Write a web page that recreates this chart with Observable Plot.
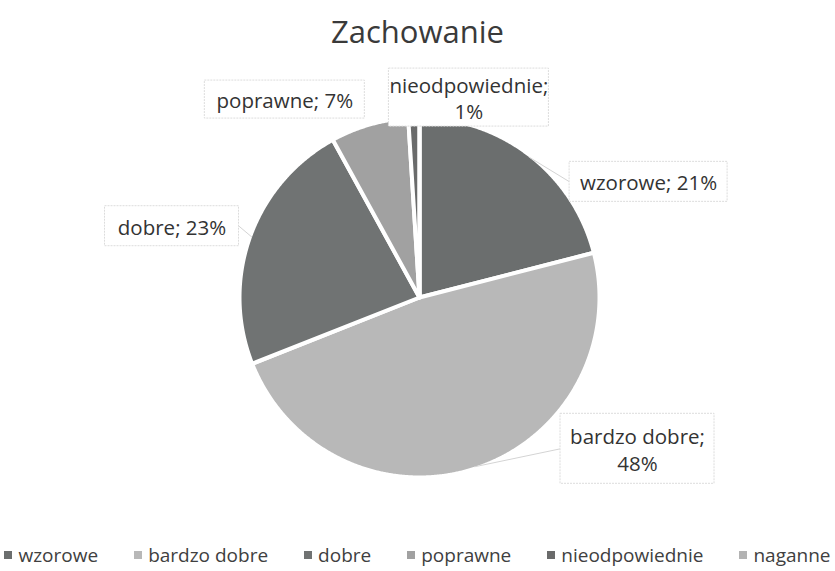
<!DOCTYPE html>
<html><head><meta charset="utf-8">
<script src="https://cdn.jsdelivr.net/npm/d3@7"></script>
<script src="https://cdn.jsdelivr.net/npm/@observablehq/plot@0.6"></script>
<style>
body{margin:0;background:#fff;font-family:"Open Sans",sans-serif;width:835px;overflow:hidden;}
#title{height:62px;line-height:62px;text-align:center;font-size:31px;color:#3a3a3a;width:835px;}
#chart svg{display:block;}
#legend{width:835px;height:54px;overflow:visible;}
#legend > div{display:flex !important;flex-wrap:nowrap !important;justify-content:center !important;align-items:center !important;min-height:0 !important;margin:0 !important;padding-top:25px;white-space:nowrap;}
#legend span{margin-right:36px !important;white-space:nowrap;display:inline-flex !important;align-items:center;}
#legend span:last-child{margin-right:0 !important;}
#legend span svg{margin-right:6px !important;}
</style></head><body>
<div id="title">Zachowanie</div>
<div id="chart"></div>
<div id="legend"></div>
<script>
// ---- data ----
const categories = ["wzorowe", "bardzo dobre", "dobre", "poprawne", "nieodpowiednie", "naganne"];
const percents = [21, 48, 23, 7, 1, 0];
const colors = ["#6b6e6e", "#b8b8b8", "#707373", "#a1a1a1", "#6a6b6b", "#b3b3b3"];
const labelTexts = ["wzorowe; 21%", "bardzo dobre;\n48%", "dobre; 23%", "poprawne; 7%", "nieodpowiednie;\n1%", ""];

// ---- layout (pixels) ----
const W = 835, H = 455, CX = 419, CY = 235, R = 178;
const labelLayout = [
  {dx: 120, dy: 25, w: 158, h: 40, leader: true},
  {dx: 163, dy: -18, w: 154, h: 70, leader: true},
  {dx: -80, dy: -11, w: 134, h: 40, leader: true},
  {dx: -85, dy: -27, w: 160, h: 38, leader: false},
  {dx: 55, dy: -22, w: 160, h: 58, leader: false},
  null
];

const rows = categories.map((c, i) => ({cat: c, value: percents[i]}));
const arcs = d3.pie().sort(null).value(d => d.value)(rows);

const rr = 1 + 2 / R;
const pts = [];
arcs.forEach(a => {
  const c = a.data.cat;
  pts.push({cat: c, x: 0, y: 0});
  const n = Math.max(2, Math.ceil((a.endAngle - a.startAngle) / 0.005));
  for (let k = 0; k <= n; k++) {
    const t = a.startAngle + (a.endAngle - a.startAngle) * k / n;
    pts.push({cat: c, x: rr * Math.sin(t), y: rr * Math.cos(t)});
  }
  pts.push({cat: c, x: 0, y: 0});
});

const labels = [], boxes = [], leaders = [];
arcs.forEach((a, i) => {
  const L = labelLayout[i];
  if (!L || !labelTexts[i]) return;
  const m = (a.startAngle + a.endAngle) / 2;
  const ex = Math.sin(m), ey = Math.cos(m);
  const bx = ex + L.dx / R, by = ey - L.dy / R;
  labels.push({x: bx, y: by, text: labelTexts[i]});
  boxes.push({x1: bx - L.w / 2 / R, x2: bx + L.w / 2 / R, y1: by - L.h / 2 / R, y2: by + L.h / 2 / R});
  if (L.leader) {
    const side = L.dx > 0 ? bx - L.w / 2 / R : bx + L.w / 2 / R;
    leaders.push({x1: ex, y1: ey, x2: side, y2: by});
  }
});

const chart = Plot.plot({
  width: W, height: H,
  margin: 0,
  x: {domain: [-CX / R, (W - CX) / R], range: [0, W], axis: null},
  y: {domain: [-(H - CY) / R, CY / R], range: [H, 0], axis: null},
  color: {domain: categories, range: colors},
  style: {fontFamily: "Open Sans", background: "white"},
  marks: [
    Plot.line(pts, {x: "x", y: "y", z: "cat", fill: "cat", stroke: "white", strokeWidth: 4, strokeLinejoin: "round", curve: "linear"}),
    Plot.link(leaders, {x1: "x1", y1: "y1", x2: "x2", y2: "y2", stroke: "#d4d4d4", strokeWidth: 1}),
    Plot.rect(boxes, {x1: "x1", x2: "x2", y1: "y1", y2: "y2", fill: "white", stroke: "#dcdcdc", strokeWidth: 1, strokeDasharray: "2,1"}),
    Plot.text(labels, {x: "x", y: "y", text: "text", fontSize: 20.5, fill: "#333", lineHeight: 1.3})
  ]
});
document.getElementById("chart").appendChild(chart);

const legend = Plot.legend({
  color: {type: "categorical", domain: categories, range: colors},
  swatchSize: 8,
  style: {fontSize: "19px", fontFamily: "Open Sans", color: "#404040"}
});
document.getElementById("legend").appendChild(legend);
</script>
</body></html>
